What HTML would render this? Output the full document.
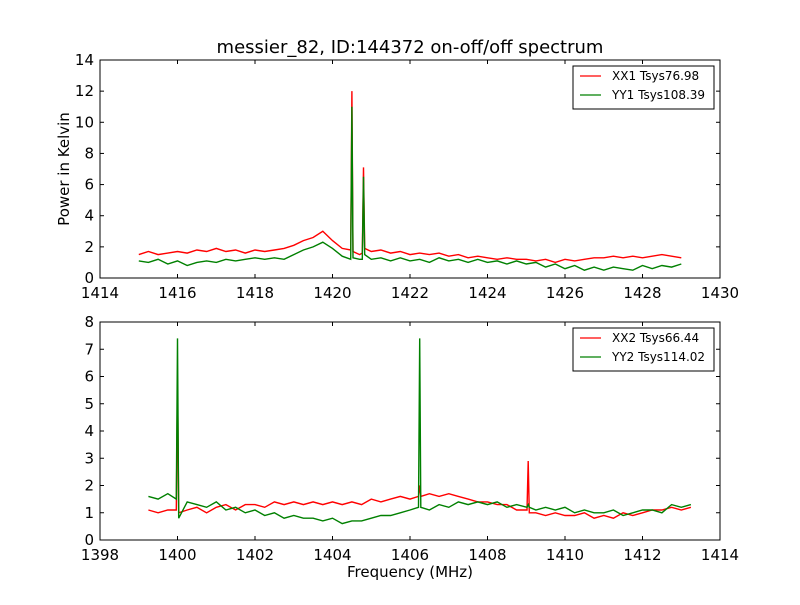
<!DOCTYPE html>
<html><head><meta charset="utf-8"><style>
body{margin:0;background:#fff;}
svg text{font-family:"DejaVu Sans","Liberation Sans",sans-serif;}
</style></head><body>
<svg id="chart" width="800" height="600" xmlns="http://www.w3.org/2000/svg">
<rect width="800" height="600" fill="#fff"/>
</svg>
<script>
const freq1=[1415.0,1415.25,1415.5,1415.75,1416.0,1416.25,1416.5,1416.75,1417.0,1417.25,1417.5,1417.75,1418.0,1418.25,1418.5,1418.75,1419.0,1419.25,1419.5,1419.75,1420.0,1420.25,1420.47,1420.5,1420.53,1420.7,1420.77,1420.8,1420.83,1421.0,1421.25,1421.5,1421.75,1422.0,1422.25,1422.5,1422.75,1423.0,1423.25,1423.5,1423.75,1424.0,1424.25,1424.5,1424.75,1425.0,1425.25,1425.5,1425.75,1426.0,1426.25,1426.5,1426.75,1427.0,1427.25,1427.5,1427.75,1428.0,1428.25,1428.5,1428.75,1429.0];
const xx1=[1.5,1.7,1.5,1.6,1.7,1.6,1.8,1.7,1.9,1.7,1.8,1.6,1.8,1.7,1.8,1.9,2.1,2.4,2.6,3.0,2.4,1.9,1.8,12.0,1.7,1.5,1.6,7.1,1.9,1.7,1.8,1.6,1.7,1.5,1.6,1.5,1.6,1.4,1.5,1.3,1.4,1.3,1.2,1.3,1.2,1.2,1.1,1.2,1.0,1.2,1.1,1.2,1.3,1.3,1.4,1.3,1.4,1.3,1.4,1.5,1.4,1.3];
const yy1=[1.1,1.0,1.2,0.9,1.1,0.8,1.0,1.1,1.0,1.2,1.1,1.2,1.3,1.2,1.3,1.2,1.5,1.8,2.0,2.3,1.9,1.4,1.2,11.0,1.3,1.2,1.2,6.5,1.5,1.2,1.3,1.1,1.3,1.1,1.2,1.0,1.3,1.1,1.2,1.0,1.2,1.0,1.1,0.9,1.1,0.9,1.0,0.7,0.9,0.6,0.8,0.5,0.7,0.5,0.7,0.6,0.5,0.8,0.6,0.8,0.7,0.9];
const freq2=[1399.25,1399.5,1399.75,1399.97,1400.0,1400.03,1400.25,1400.5,1400.75,1401.0,1401.25,1401.5,1401.75,1402.0,1402.25,1402.5,1402.75,1403.0,1403.25,1403.5,1403.75,1404.0,1404.25,1404.5,1404.75,1405.0,1405.25,1405.5,1405.75,1406.0,1406.22,1406.25,1406.28,1406.5,1406.75,1407.0,1407.25,1407.5,1407.75,1408.0,1408.25,1408.5,1408.75,1409.02,1409.05,1409.08,1409.25,1409.5,1409.75,1410.0,1410.25,1410.5,1410.75,1411.0,1411.25,1411.5,1411.75,1412.0,1412.25,1412.5,1412.75,1413.0,1413.25];
const xx2=[1.1,1.0,1.1,1.1,5.8,1.0,1.1,1.2,1.0,1.2,1.3,1.1,1.3,1.3,1.2,1.4,1.3,1.4,1.3,1.4,1.3,1.4,1.3,1.4,1.3,1.5,1.4,1.5,1.6,1.5,1.6,2.0,1.6,1.7,1.6,1.7,1.6,1.5,1.4,1.4,1.3,1.3,1.1,1.1,2.9,1.0,1.0,0.9,1.0,0.9,0.9,1.0,0.8,0.9,0.8,1.0,0.9,1.0,1.1,1.1,1.2,1.1,1.2];
const yy2=[1.6,1.5,1.7,1.5,7.4,0.8,1.4,1.3,1.2,1.4,1.1,1.2,1.0,1.1,0.9,1.0,0.8,0.9,0.8,0.8,0.7,0.8,0.6,0.7,0.7,0.8,0.9,0.9,1.0,1.1,1.2,7.4,1.2,1.1,1.3,1.2,1.4,1.3,1.4,1.3,1.4,1.2,1.3,1.2,1.3,1.2,1.1,1.2,1.1,1.2,1.0,1.1,1.0,1.0,1.1,0.9,1.0,1.1,1.1,1.0,1.3,1.2,1.3];
const xticks1=[1414,1416,1418,1420,1422,1424,1426,1428,1430];
const yticks1=[0,2,4,6,8,10,12,14];
const xticks2=[1398,1400,1402,1404,1406,1408,1410,1412,1414];
const yticks2=[0,1,2,3,4,5,6,7,8];

const svg=document.getElementById('chart');
const NS='http://www.w3.org/2000/svg';
function el(tag,attrs,parent){const e=document.createElementNS(NS,tag);for(const k in attrs)e.setAttribute(k,attrs[k]);(parent||svg).appendChild(e);return e;}

function panel(name,L,T,R,B,xmin,xmax,ymin,ymax,xt,yt,series,legend){
  const g=el('g',{});
  
  
  const sx=v=>L+(v-xmin)/(xmax-xmin)*(R-L);
  const sy=v=>B-(v-ymin)/(ymax-ymin)*(B-T);
  series.forEach(s=>{
    const d=s.x.map((v,i)=>(i?'L':'M')+sx(v).toFixed(1)+','+sy(s.y[i]).toFixed(1)).join('');
    const p=el('path',{d:d,fill:'none',stroke:s.color,'stroke-width':1.4},g);
    
    
  });
  const fr=el('rect',{x:L,y:T,width:R-L,height:B-T,fill:'none',stroke:'#000','stroke-width':1},g);
  
  
  xt.forEach(v=>{
    const x=sx(v);
    el('line',{x1:x,x2:x,y1:B,y2:B-4,stroke:'#000'},g);
    el('line',{x1:x,x2:x,y1:T,y2:T+4,stroke:'#000'},g);
    const t=el('text',{x:x,y:B+20,'text-anchor':'middle','font-size':15},g);
    t.textContent=v;
    
    
  });
  yt.forEach(v=>{
    const y=sy(v);
    el('line',{x1:L,x2:L+4,y1:y,y2:y,stroke:'#000'},g);
    el('line',{x1:R,x2:R-4,y1:y,y2:y,stroke:'#000'},g);
    const t=el('text',{x:L-6,y:y+5,'text-anchor':'end','font-size':15},g);
    t.textContent=v;
    
    
  });
  const lg=el('g',{},g);
  
  
  el('rect',{x:573,y:T+6,width:141,height:43,fill:'#fff',stroke:'#000'},lg);
  legend.forEach((l,i)=>{
    const y=T+16+i*19;
    el('line',{x1:580,x2:601,y1:y,y2:y,stroke:l.color,'stroke-width':1.2},lg);
    const t=el('text',{x:612,y:y+4,'font-size':12},lg);
    t.textContent=l.label;
    
    
  });
}
panel('top-panel',100,60,720,278,1414,1430,0,14,xticks1,yticks1,
  [{name:'xx1-line',x:freq1,y:xx1,color:'#ff0000'},{name:'yy1-line',x:freq1,y:yy1,color:'#008000'}],
  [{label:'XX1 Tsys76.98',color:'#ff0000'},{label:'YY1 Tsys108.39',color:'#008000'}]);
panel('bottom-panel',100,322,720,540,1398,1414,0,8,xticks2,yticks2,
  [{name:'xx2-line',x:freq2,y:xx2,color:'#ff0000'},{name:'yy2-line',x:freq2,y:yy2,color:'#008000'}],
  [{label:'XX2 Tsys66.44',color:'#ff0000'},{label:'YY2 Tsys114.02',color:'#008000'}]);

let t=el('text',{x:410,y:53,'text-anchor':'middle','font-size':18});
t.textContent='messier_82, ID:144372 on-off/off spectrum';


t=el('text',{x:410,y:577,'text-anchor':'middle','font-size':15});
t.textContent='Frequency (MHz)';


t=el('text',{x:69,y:169,'text-anchor':'middle','font-size':15,transform:'rotate(-90 69 169)'});
t.textContent='Power in Kelvin';


</script>
</body></html>
